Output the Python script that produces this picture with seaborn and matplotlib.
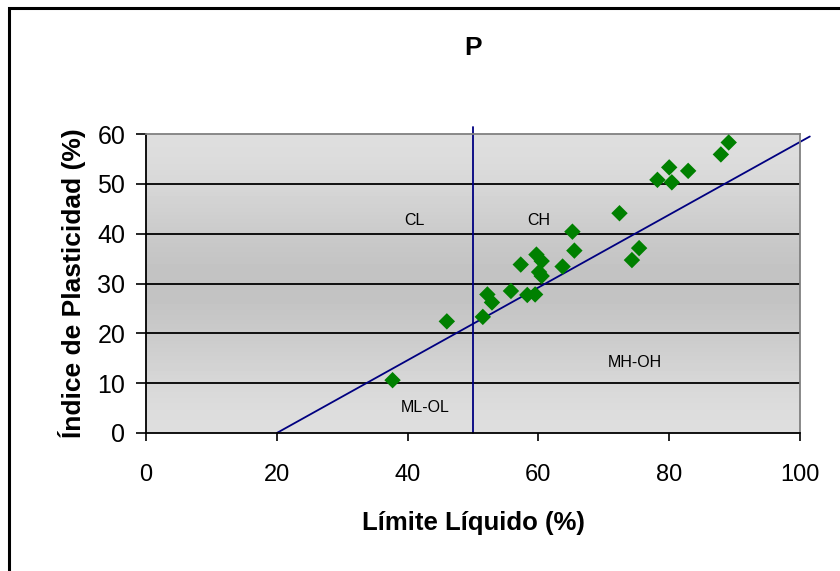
import matplotlib
matplotlib.use("Agg")
import matplotlib.pyplot as plt
import numpy as np
import pandas as pd
import seaborn as sns
from matplotlib.patches import Rectangle

# data
limite_liquido = [37.7, 46.0, 51.5, 52.2, 52.9, 55.8, 57.3, 58.3, 59.5, 59.7,
                  60.5, 60.1, 60.5, 63.7, 65.2, 65.5, 72.4, 74.3, 75.4, 78.2,
                  80.0, 80.4, 82.9, 87.9, 89.1]
indice_plasticidad = [10.6, 22.4, 23.3, 27.8, 26.2, 28.5, 33.8, 27.7, 27.8, 35.8,
                      34.5, 32.3, 31.5, 33.4, 40.4, 36.6, 44.1, 34.7, 37.1, 50.8,
                      53.3, 50.3, 52.6, 55.9, 58.3]
linea_a_ll = [20, 101.5]
linea_a_ip = [0, 59.5]
linea_b_ll = [50, 50]
linea_b_ip = [0, 61.5]
zonas = ["CL", "CH", "MH-OH", "ML-OL"]
zonas_x = [41, 60, 74.8, 42.7]
zonas_y = [42.6, 42.6, 14.2, 5.2]

df = pd.DataFrame({"LL": limite_liquido, "IP": indice_plasticidad})

sns.set_theme(style="white")
plt.rcParams['font.family'] = ['Liberation Sans', 'DejaVu Sans']
plt.rcParams['text.color'] = 'black'
plt.rcParams['axes.labelcolor'] = 'black'
plt.rcParams['xtick.color'] = 'black'
plt.rcParams['ytick.color'] = 'black'

fig = plt.figure(figsize=(8.4, 5.71), dpi=100)
ax = fig.add_axes([146/840, 1-433/571, 654/840, 299/571])

# gradient background
grad = np.array([222, 212, 200, 192, 200, 212, 222], dtype=float).reshape(-1, 1)
ax.imshow(grad, cmap="gray", vmin=0, vmax=255, aspect="auto",
          extent=[0, 100, 0, 60], origin="lower", interpolation="bicubic", zorder=0)

for yv in range(10, 60, 10):
    ax.axhline(yv, color="black", lw=1.3, zorder=1)

ax.plot(linea_a_ll, linea_a_ip, color="#000080", lw=1.3, zorder=2, clip_on=False)
ax.plot(linea_b_ll, linea_b_ip, color="#000080", lw=1.3, zorder=2, clip_on=False)

sns.scatterplot(data=df, x="LL", y="IP", marker="D", s=70, color="#008000",
                edgecolor="none", ax=ax, zorder=3, clip_on=False)

for t, xv, yv in zip(zonas, zonas_x, zonas_y):
    ax.text(xv, yv, t, fontsize=11.5, ha="center", va="center", color="black", zorder=4)

ax.set_xlim(0, 100)
ax.set_ylim(0, 60)
ax.set_xticks(range(0, 101, 20))
ax.set_yticks(range(0, 61, 10))
ax.tick_params(axis="x", direction="out", length=6, width=1.2,
               labelsize=17, pad=16, bottom=True)
ax.tick_params(axis="y", direction="out", length=7, width=1.2,
               labelsize=18, pad=8, left=True)
for s in ["left", "bottom"]:
    ax.spines[s].set_color("black")
    ax.spines[s].set_linewidth(1.3)
for s in ["top", "right"]:
    ax.spines[s].set_color("#808080")
    ax.spines[s].set_linewidth(1.3)

ax.set_xlabel("Límite Líquido (%)", fontsize=18.5, fontweight="bold", labelpad=18)
ax.set_ylabel("Índice de Plasticidad (%)", fontsize=19, fontweight="bold", labelpad=8)
fig.text(473/840, 1-48/571, "P", fontsize=19, fontweight="bold", ha="center", va="center")

fig.patches.append(Rectangle((9/840, -0.1), 1.2, 1 - 8/571 + 0.1, transform=fig.transFigure,
                             fill=False, edgecolor="black", lw=2.2, clip_on=False))

fig.savefig("out.png", dpi=100, facecolor="white")
